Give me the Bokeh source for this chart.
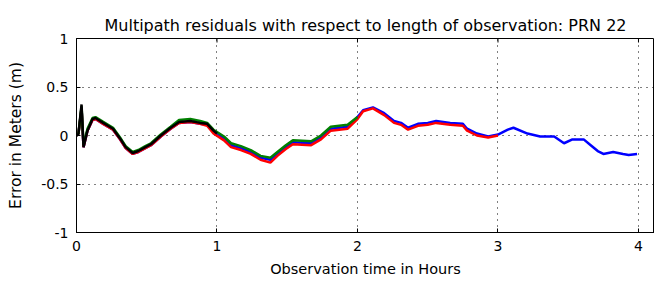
import math
from bokeh.plotting import figure
from bokeh.models import FixedTicker, Range1d
from bokeh.embed import file_html
from bokeh.resources import INLINE

TITLE = "Multipath residuals with respect to length of observation: PRN 22"
X_LABEL = "Observation time in Hours"
Y_LABEL = "Error in Meters (m)"
x_ticks = [0, 1, 2, 3, 4]
y_ticks = [-1, -0.5, 0, 0.5, 1]
y_tick_labels = {-1: "-1", -0.5: "-0.5", 0: "0", 0.5: "0.5", 1: "1"}

# 4-hour observation (blue)
t_blue = [0.0, 0.014, 0.036, 0.05, 0.078, 0.114, 0.135, 0.19, 0.26, 0.31, 0.35, 0.40, 0.44, 0.49,
          0.53, 0.60, 0.67, 0.73, 0.81, 0.88, 0.93, 0.975, 1.05, 1.10, 1.17, 1.24, 1.31, 1.38,
          1.43, 1.49, 1.54, 1.67, 1.74, 1.81, 1.93, 2.00, 2.04, 2.11, 2.19, 2.26, 2.31, 2.36,
          2.43, 2.50, 2.56, 2.66, 2.75, 2.78, 2.85, 2.93, 3.00, 3.07, 3.11, 3.21, 3.30, 3.40,
          3.47, 3.53, 3.61, 3.66, 3.71, 3.75, 3.82, 3.89, 3.93, 3.99]
v_blue = [0.0, 0.02, 0.28, -0.12, 0.05, 0.16, 0.17, 0.12, 0.06, -0.04, -0.13, -0.19, -0.17, -0.13,
          -0.10, -0.01, 0.07, 0.13, 0.14, 0.12, 0.11, 0.04, -0.03, -0.10, -0.13, -0.17, -0.23, -0.25,
          -0.19, -0.12, -0.07, -0.08, -0.02, 0.07, 0.09, 0.19, 0.26, 0.29, 0.23, 0.15, 0.13, 0.08,
          0.12, 0.13, 0.15, 0.13, 0.12, 0.07, 0.02, -0.01, 0.01, 0.06, 0.08, 0.02, -0.01, -0.01,
          -0.08, -0.04, -0.04, -0.10, -0.16, -0.19, -0.17, -0.19, -0.20, -0.19]

# 3-hour observation (red)
t_red = [0.0, 0.014, 0.036, 0.05, 0.078, 0.114, 0.135, 0.19, 0.26, 0.31, 0.35, 0.40, 0.44, 0.49,
         0.53, 0.60, 0.67, 0.73, 0.81, 0.88, 0.93, 0.975, 1.05, 1.10, 1.17, 1.24, 1.31, 1.38,
         1.43, 1.49, 1.54, 1.67, 1.74, 1.81, 1.93, 2.00, 2.04, 2.11, 2.19, 2.26, 2.31, 2.36,
         2.43, 2.50, 2.56, 2.66, 2.75, 2.78, 2.85, 2.93, 3.00]
v_red = [0.0, 0.02, 0.28, -0.12, 0.05, 0.16, 0.17, 0.12, 0.06, -0.04, -0.13, -0.19, -0.17, -0.13,
         -0.10, -0.01, 0.07, 0.13, 0.14, 0.12, 0.10, 0.02, -0.05, -0.12, -0.15, -0.19, -0.25, -0.28,
         -0.21, -0.14, -0.09, -0.10, -0.04, 0.05, 0.07, 0.17, 0.25, 0.28, 0.21, 0.13, 0.11, 0.06,
         0.10, 0.11, 0.13, 0.11, 0.10, 0.05, 0.00, -0.02, 0.00]

# 2-hour observation (green)
t_green = [0.0, 0.014, 0.036, 0.05, 0.078, 0.114, 0.135, 0.19, 0.26, 0.31, 0.35, 0.40, 0.44, 0.49,
           0.53, 0.60, 0.67, 0.73, 0.81, 0.88, 0.93, 0.975, 1.05, 1.10, 1.17, 1.24, 1.31, 1.38,
           1.43, 1.49, 1.54, 1.67, 1.74, 1.81, 1.93, 2.00]
v_green = [0.0, 0.02, 0.30, -0.10, 0.07, 0.18, 0.19, 0.14, 0.08, -0.02, -0.11, -0.17, -0.15, -0.11,
           -0.08, 0.01, 0.09, 0.16, 0.17, 0.15, 0.13, 0.06, -0.01, -0.08, -0.11, -0.15, -0.21, -0.23,
           -0.17, -0.10, -0.05, -0.06, 0.00, 0.09, 0.11, 0.19]

# 1-hour observation (black)
t_black = [0.0, 0.014, 0.036, 0.05, 0.078, 0.114, 0.135, 0.19, 0.26, 0.31, 0.35, 0.40, 0.44, 0.49,
           0.53, 0.60, 0.67, 0.73, 0.81, 0.88, 0.93, 0.975, 1.0]
v_black = [0.0, 0.02, 0.32, -0.12, 0.05, 0.17, 0.18, 0.13, 0.07, -0.03, -0.12, -0.18, -0.16, -0.12,
           -0.09, 0.00, 0.08, 0.14, 0.15, 0.13, 0.12, 0.05, 0.02]

FONT = "DejaVu Sans"

p = figure(width=654, height=282, output_backend="svg", toolbar_location=None,
           x_range=Range1d(0, 4.114), y_range=Range1d(-1, 1),
           min_border_left=76, min_border_right=0, min_border_top=38, min_border_bottom=50)

p.title.text = TITLE
p.title.align = "center"
p.title.text_font = FONT
p.title.text_font_size = "16px"
p.title.text_font_style = "normal"
p.title.text_color = "#000000"
p.title.standoff = 8

p.line(t_blue, v_blue, color="#0000ff", line_width=2.5)
p.line(t_red, v_red, color="#ff0000", line_width=2.5)
p.line(t_green, v_green, color="#008000", line_width=2.5)
p.line(t_black, v_black, color="#000000", line_width=2.5)

# inside tick marks along the top edge (clipped to the frame)
p.scatter(x_ticks, [y_ticks[-1]] * len(x_ticks), marker="dash", angle=math.pi / 2,
          size=8, line_color="#000000", line_width=1)

p.outline_line_color = "#000000"
p.outline_line_width = 1
p.outline_line_alpha = 1

for ax in (p.xaxis[0], p.yaxis[0]):
    ax.major_tick_in = 4
    ax.major_tick_out = 0
    ax.minor_tick_in = 0
    ax.minor_tick_out = 0
    ax.axis_line_color = "#000000"
    ax.major_tick_line_color = "#000000"
    ax.major_label_text_font = FONT
    ax.major_label_text_font_size = "14px"
    ax.major_label_text_color = "#000000"
    ax.axis_label_text_font = FONT
    ax.axis_label_text_font_style = "normal"
    ax.axis_label_text_color = "#000000"

p.xaxis[0].ticker = FixedTicker(ticks=x_ticks)
p.yaxis[0].ticker = FixedTicker(ticks=y_ticks)
p.yaxis[0].major_label_overrides = y_tick_labels
p.xaxis[0].axis_label = X_LABEL
p.yaxis[0].axis_label = Y_LABEL
p.xaxis[0].axis_label_text_font_size = "14.5px"
p.yaxis[0].axis_label_text_font_size = "15.5px"
p.xaxis[0].major_label_standoff = 8
p.yaxis[0].major_label_standoff = 8
p.xaxis[0].axis_label_standoff = 7
p.yaxis[0].axis_label_standoff = 13

p.xgrid.grid_line_color = "#000000"
p.xgrid.grid_line_dash = "1 5"
p.ygrid.grid_line_color = "#000000"
p.ygrid.grid_line_dash = "1 5"

open("out.html", "w").write(file_html(p, INLINE))
